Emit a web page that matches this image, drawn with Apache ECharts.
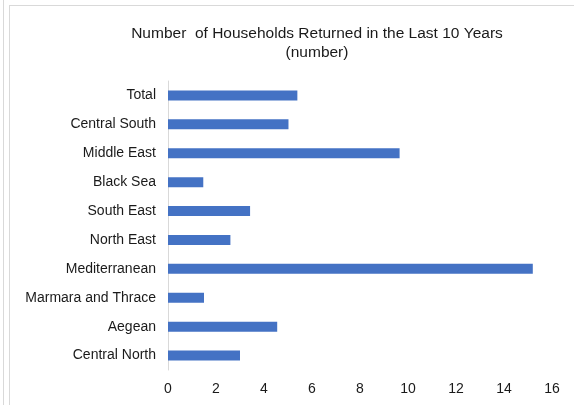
<!DOCTYPE html>
<html>
<head>
<meta charset="utf-8">
<script src="https://cdn.jsdelivr.net/npm/echarts@6/dist/echarts.min.js"></script>
<style>
  html, body { margin: 0; padding: 0; background: #fff; }
  .edge { position: absolute; left: 3px; top: 0; width: 0; height: 405px; border-left: 1px solid #d9d9d9; }
  .main {
    position: absolute; left: 9px; top: 5px; width: 566px; height: 400px;
    border-left: 1px solid #d9d9d9; border-top: 1px solid #d9d9d9;
  }
  #chart { position: absolute; left: -10px; top: -6px; width: 574px; height: 405px; }
</style>
</head>
<body>
<div class="edge"></div>
<div class="main"><div id="chart"></div></div>
<script>
// categories (top to bottom as shown)
const regions = ['Total', 'Central South', 'Middle East', 'Black Sea', 'South East',
  'North East', 'Mediterranean', 'Marmara and Thrace', 'Aegean', 'Central North']
const households = [5.39, 5.02, 9.65, 1.47, 3.42, 2.6, 15.2, 1.5, 4.55, 3.0]
const xTicks = [0, 2, 4, 6, 8, 10, 12, 14, 16]

let mycharts = echarts.init(document.getElementById('chart'))
mycharts.setOption({
  animation: false,
  title: {
    text: 'Number  of Households Returned in the Last 10 Years\n(number)',
    left: 312,
    top: 19,
    textAlign: 'center',
    textStyle: {
      fontFamily: 'Liberation Sans',
      fontSize: 15.5,
      fontWeight: 'normal',
      color: '#1a1a1a',
      lineHeight: 19,
    },
  },
  grid: {
    left: 168,
    right: 22,
    top: 81,
    bottom: 35,
  },
  xAxis: {
    type: 'value',
    min: xTicks[0],
    max: xTicks[xTicks.length - 1],
    interval: 2,
    axisLine: { show: false },
    axisTick: { show: false },
    splitLine: { show: false },
    axisLabel: {
      margin: 12,
      fontFamily: 'Liberation Sans',
      fontSize: 14,
      color: '#1a1a1a',
    },
  },
  yAxis: {
    type: 'category',
    inverse: true,
    data: regions,
    axisLine: { show: true, lineStyle: { color: '#d9d9d9', width: 1 } },
    axisTick: { show: false },
    axisLabel: {
      margin: 12,
      fontFamily: 'Liberation Sans',
      fontSize: 14,
      color: '#1a1a1a',
    },
  },
  series: [
    {
      type: 'bar',
      data: households,
      barWidth: 10,
      itemStyle: { color: '#4472C4' },
    },
  ],
})
</script>
</body>
</html>
